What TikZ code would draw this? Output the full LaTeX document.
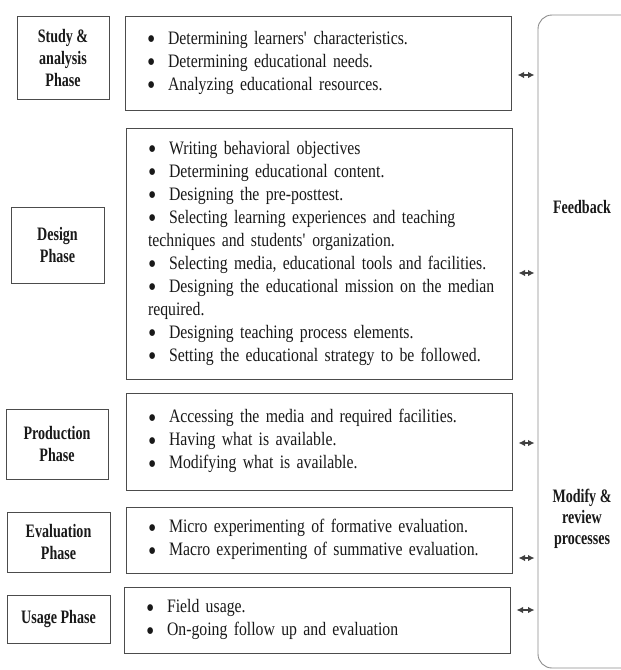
\documentclass[tikz,border=0pt]{standalone}
\usepackage{fontspec}
\setmainfont{Liberation Serif}[FakeStretch=0.83,
    BoldFeatures={FakeStretch=0.74}]
\usetikzlibrary{arrows.meta}

\newcommand{\itm}{\makebox[21pt][l]{\raisebox{-4.6pt}{\scalebox{1.5}{\textbullet}}}}
\newcommand{\taskfont}{\fontsize{19}{23}\selectfont\spaceskip=3.4pt plus 1pt minus 0.5pt\relax}

\begin{document}
\begin{tikzpicture}[
    x=1pt, y=-1pt,
    phase/.style={rectangle, draw=black!70, line width=1pt, align=center,
                  text=black!90, font=\fontsize{19}{22}\selectfont\bfseries},
    task/.style={rectangle, draw=black!70, line width=1pt, align=left,
                 text width=342pt, inner xsep=22pt, inner ysep=0pt,
                 text=black!90, font=\taskfont},
    side/.style={align=center, text=black!90,
                 font=\fontsize{19}{21}\selectfont\bfseries},
    dbl/.style={{Latex[length=6.5pt,width=6.5pt]}-{Latex[length=6.5pt,width=6.5pt]},
                line width=1.3pt, draw=black!75, shorten <=6pt, shorten >=3pt}
]
    \useasboundingbox (0,0) rectangle (621,670);

    % phases
    \node[phase, minimum width=92pt, minimum height=83pt] (study) at (63,57.5) {Study \&\\analysis\\Phase};
    \node[phase, minimum width=93pt, minimum height=76pt] (design) at (57.5,245) {Design\\Phase};
    \node[phase, minimum width=102pt, minimum height=70pt] (prod) at (57,444) {Production\\Phase};
    \node[phase, minimum width=103pt, minimum height=60pt] (eval) at (58.5,542) {Evaluation\\Phase};
    \node[phase, minimum width=103pt, minimum height=48pt] (usage) at (58.5,619) {Usage Phase};

    % tasks of each phase
    \node[task, minimum height=94pt] (c1) at (318,63) {%
        \itm Determining learners\textquotesingle\ characteristics.\\
        \itm Determining educational needs.\\
        \itm Analyzing educational resources.};
    \node[task, minimum height=251pt] (c2) at (319,253.5) {%
        \itm Writing behavioral objectives\\
        \itm Determining educational content.\\
        \itm Designing the pre-posttest.\\
        \itm Selecting learning experiences and teaching\\
        techniques and students\textquotesingle\ organization.\\
        \itm Selecting media, educational tools and facilities.\\
        \mbox{\itm Designing the educational mission on the median}\\
        required.\\
        \itm Designing teaching process elements.\\
        \itm Setting the educational strategy to be followed.};
    \node[task, minimum height=97pt] (c3) at (319,441.5) {%
        \itm Accessing the media and required facilities.\\
        \itm Having what is available.\\
        \itm Modifying what is available.};
    \node[task, minimum height=66pt] (c4) at (319,540) {%
        \itm Micro experimenting of formative evaluation.\\
        \itm Macro experimenting of summative evaluation.};
    \node[task, minimum height=66pt] (c5) at (317,620) {%
        \itm Field usage.\\
        \itm On-going follow up and evaluation};

    % feedback column
    \node[draw=black!45, line width=0.9pt, rounded corners=14pt,
          minimum width=120pt, minimum height=653pt] (fb) at (598,341.5) {};
    \node[side] (fbtext) at (582,207) {Feedback};
    \node[side] (modtext) at (582,519) {Modify \&\\review\\processes};

    \draw[dbl] (c1.east |- 0,75) -- (fb.west |- 0,75);
    \draw[dbl] (c2.east |- 0,273) -- (fb.west |- 0,273);
    \draw[dbl] (c3.east |- 0,443) -- (fb.west |- 0,443);
    \draw[dbl] (c4.east |- 0,558) -- (fb.west |- 0,558);
    \draw[dbl] (c5.east |- 0,610) -- (fb.west |- 0,610);
\end{tikzpicture}
\end{document}
